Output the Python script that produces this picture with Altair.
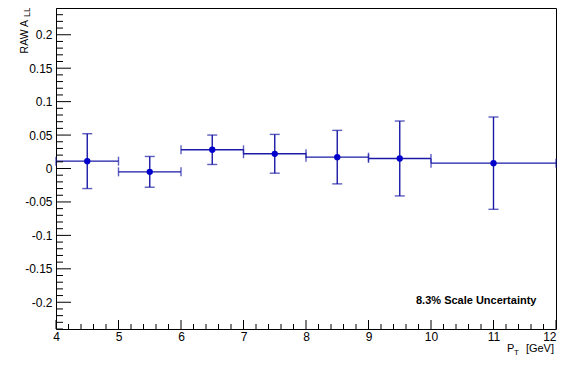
import altair as alt
import pandas as pd

# ---- data ----
pt_center = [4.5, 5.5, 6.5, 7.5, 8.5, 9.5, 11.0]
pt_low = [4.0, 5.0, 6.0, 7.0, 8.0, 9.0, 10.0]
pt_high = [5.0, 6.0, 7.0, 8.0, 9.0, 10.0, 12.0]
all_val = [0.011, -0.005, 0.028, 0.022, 0.017, 0.015, 0.008]
all_err = [0.041, 0.023, 0.022, 0.029, 0.040, 0.056, 0.069]

y_major = [-0.2, -0.15, -0.1, -0.05, 0, 0.05, 0.1, 0.15, 0.2]
y_minor = [i / 100 for i in range(-24, 25) if i % 5 != 0]
x_major = [4, 5, 6, 7, 8, 9, 10, 11, 12]
x_minor = [i / 5 for i in range(20, 61) if i % 5 != 0]

df = pd.DataFrame({
    "x": pt_center, "xlo": pt_low, "xhi": pt_high,
    "y": all_val,
    "ylo": [v - e for v, e in zip(all_val, all_err)],
    "yhi": [v + e for v, e in zip(all_val, all_err)],
})

W, H = 500, 321
LINE = "#1a1aa6"
PT = "#0000cc"
FONT = "Liberation Sans"

xs = alt.Scale(domain=[4, 12], nice=False, zero=False)
ys = alt.Scale(domain=[-0.24, 0.24], nice=False, zero=False)
xaxis = alt.Axis(values=x_major, ticks=False, tickSize=0, domain=False, grid=False,
                 labelPadding=2, labelFontSize=12, labelFont=FONT, labelColor="black",
                 title="", labelFlush=False, labelOverlap=False,
                 labelAlign=alt.ConditionalAxisLabelAlign(
                     condition={"test": "datum.value == 12", "value": "right"}, value="center"))
yaxis = alt.Axis(values=y_major, ticks=False, tickSize=0, domain=False, grid=False,
                 labelPadding=4, labelFontSize=12, labelFont=FONT, labelColor="black",
                 title="", labelExpr="'' + datum.value", labelOverlap=False)


def X(f):
    return alt.X(f, type="quantitative", scale=xs, axis=xaxis)


def Y(f):
    return alt.Y(f, type="quantitative", scale=ys, axis=yaxis)


base = alt.Chart(df)

hbar = base.mark_rule(color=LINE, strokeWidth=1.4).encode(x=X("xlo"), x2="xhi", y=Y("y"))
vbar = base.mark_rule(color=LINE, strokeWidth=1.4).encode(x=X("x"), y=Y("ylo"), y2="yhi")
cap_lo = base.mark_tick(color=LINE, orient="horizontal", size=10, thickness=1.4).encode(x=X("x"), y=Y("ylo"))
cap_hi = base.mark_tick(color=LINE, orient="horizontal", size=10, thickness=1.4).encode(x=X("x"), y=Y("yhi"))
hcap_lo = base.mark_tick(color=LINE, orient="vertical", size=9, thickness=1.4).encode(x=X("xlo"), y=Y("y"))
hcap_hi = base.mark_tick(color=LINE, orient="vertical", size=9, thickness=1.4).encode(x=X("xhi"), y=Y("y"))
pts = base.mark_point(filled=True, shape="circle", size=40, color=PT, opacity=1).encode(x=X("x"), y=Y("y"))

ymaj = alt.Chart(pd.DataFrame({"v": y_major})).mark_rule(color="black", strokeWidth=1).encode(
    y=Y("v"), x=alt.value(0), x2=alt.value(15))
ymin = alt.Chart(pd.DataFrame({"v": y_minor})).mark_rule(color="black", strokeWidth=1).encode(
    y=Y("v"), x=alt.value(0), x2=alt.value(7))
xmaj = alt.Chart(pd.DataFrame({"v": x_major})).mark_rule(color="black", strokeWidth=1).encode(
    x=X("v"), y=alt.value(H), y2=alt.value(H - 9))
xmin = alt.Chart(pd.DataFrame({"v": x_minor})).mark_rule(color="black", strokeWidth=1).encode(
    x=X("v"), y=alt.value(H), y2=alt.value(H - 5))

one = pd.DataFrame({"a": [0]})
ytitle = alt.Chart(one).mark_text(text="RAW A", angle=270, align="right", baseline="alphabetic",
                                  fontSize=10.5, font=FONT, color="black").encode(
    x=alt.value(-28), y=alt.value(12))
ysub = alt.Chart(one).mark_text(text="LL", angle=270, align="right", baseline="alphabetic",
                                fontSize=9, font=FONT, color="black").encode(
    x=alt.value(-26), y=alt.value(-1))
xt1 = alt.Chart(one).mark_text(text="P", align="left", baseline="alphabetic",
                               fontSize=11, font=FONT, color="black").encode(
    x=alt.value(451), y=alt.value(344))
xt2 = alt.Chart(one).mark_text(text="T", align="left", baseline="alphabetic",
                               fontSize=8, font=FONT, color="black").encode(
    x=alt.value(458), y=alt.value(347))
xt3 = alt.Chart(one).mark_text(text="[GeV]", align="right", baseline="alphabetic",
                               fontSize=11, font=FONT, color="black").encode(
    x=alt.value(498), y=alt.value(344))
note = alt.Chart(one).mark_text(text="8.3% Scale Uncertainty", align="left", baseline="middle",
                                fontSize=11, fontWeight="bold", font=FONT, color="black").encode(
    x=alt.value(360), y=alt.value(293))

chart = alt.layer(
    hbar, vbar, cap_lo, cap_hi, hcap_lo, hcap_hi, pts,
    ymaj, ymin, xmaj, xmin, ytitle, ysub, xt1, xt2, xt3, note
).properties(
    width=W, height=H,
    autosize=alt.AutoSizeParams(type="none"),
    padding={"left": 48, "top": 0, "right": 3, "bottom": 28},
    background="white",
).configure_view(stroke="black", strokeWidth=1)

chart.save("out.html", embed_options={"renderer": "svg", "actions": False})
